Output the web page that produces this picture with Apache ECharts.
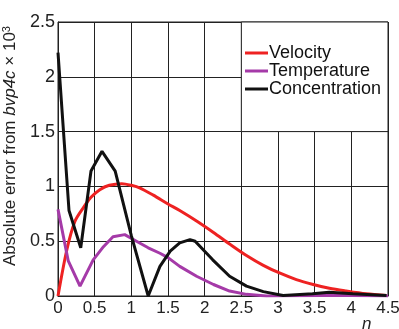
<!DOCTYPE html>
<html>
<head>
<meta charset="utf-8">
<script src="https://cdn.jsdelivr.net/npm/echarts@6/dist/echarts.min.js"></script>
<style>
html,body{margin:0;padding:0;background:#fff;}
#c{width:399px;height:329px;}
</style>
</head>
<body>
<div id="c"></div>
<script>
var seriesNames = ['Velocity', 'Temperature', 'Concentration'];
var xTicks = [0, 0.5, 1, 1.5, 2, 2.5, 3, 3.5, 4, 4.5];
var yTicks = [0, 0.5, 1, 1.5, 2, 2.5];

var velX = [0, 0.12, 0.23, 0.34, 0.45, 0.57, 0.7, 0.87, 1.0, 1.12, 1.3, 1.5, 1.66, 1.9, 2.12, 2.35, 2.57, 2.8, 3.02, 3.25, 3.48, 3.7, 3.93, 4.2, 4.48];
var velY = [0, 0.42, 0.68, 0.80, 0.90, 0.97, 1.01, 1.025, 1.01, 0.985, 0.92, 0.84, 0.78, 0.68, 0.58, 0.47, 0.37, 0.28, 0.21, 0.15, 0.105, 0.07, 0.045, 0.02, 0.005];

var tempX = [0, 0.14, 0.3, 0.48, 0.62, 0.75, 0.91, 1.07, 1.23, 1.39, 1.5, 1.66, 1.89, 2.12, 2.34, 2.57, 2.84, 3.2, 3.6, 4.0, 4.5];
var tempY = [0.79, 0.32, 0.09, 0.33, 0.45, 0.54, 0.56, 0.5, 0.44, 0.39, 0.35, 0.27, 0.18, 0.105, 0.045, 0.015, 0.0, 0.002, 0.005, 0.005, 0.0];

var concX = [0, 0.15, 0.31, 0.45, 0.6, 0.78, 1.0, 1.23, 1.39, 1.53, 1.66, 1.8, 1.87, 2.11, 2.34, 2.57, 2.8, 3.07, 3.47, 3.7, 4.02, 4.48];
var concY = [2.22, 0.78, 0.44, 1.14, 1.32, 1.14, 0.55, 0, 0.27, 0.41, 0.485, 0.515, 0.5, 0.33, 0.18, 0.09, 0.04, 0.005, 0.02, 0.035, 0.02, 0.005];

var legendBox = [[2.5, 1.5], [4.5, 2.5]];

function pairs(xs, ys) { return xs.map(function (x, i) { return [x, ys[i]]; }); }

var font = "'Liberation Sans', Arial, sans-serif";
var colors = ['#ee2222', '#a53aa8', '#111111'];

var chart = echarts.init(document.getElementById('c'), null, {renderer: 'canvas'});
chart.setOption({
  animation: false,
  backgroundColor: '#fff',
  color: colors,
  textStyle: {fontFamily: font},
  grid: {left: 58, right: 11, top: 22, bottom: 33, show: true, borderColor: '#222', borderWidth: 1,
    backgroundColor: 'transparent', containLabel: false, outerBoundsMode: 'none'},
  legend: {
    data: seriesNames,
    orient: 'vertical',
    left: 245, top: 44,
    padding: 0,
    itemGap: 0,
    itemWidth: 23, itemHeight: 3,
    icon: 'rect',
    textStyle: {fontFamily: font, fontSize: 18, color: '#111', lineHeight: 17.5, padding: [0, 0, 0, -4]}
  },
  xAxis: {
    type: 'value', min: xTicks[0], max: xTicks[xTicks.length - 1], interval: 0.5,
    axisLine: {show: true, lineStyle: {color: '#222', width: 1}},
    axisTick: {show: false},
    splitLine: {show: true, lineStyle: {color: '#222', width: 1}},
    axisLabel: {fontFamily: font, fontSize: 17, color: '#222', margin: 4,
      formatter: function (v) { return String(v); }}
  },
  yAxis: {
    type: 'value', min: yTicks[0], max: yTicks[yTicks.length - 1], interval: 0.5,
    axisLine: {show: true, lineStyle: {color: '#222', width: 1}},
    axisTick: {show: false},
    splitLine: {show: true, lineStyle: {color: '#222', width: 1}},
    axisLabel: {fontFamily: font, fontSize: 18, color: '#222', margin: 3,
      formatter: function (v) { return String(v); }},
    name: 'Absolute error from {i|bvp4c} × 10{s|3}',
    nameLocation: 'middle',
    nameGap: 26,
    nameTextStyle: {
      fontFamily: font, fontSize: 17, color: '#222',
      padding: [0, 0, 0, 26],
      rich: {
        i: {fontFamily: font, fontSize: 17, fontStyle: 'italic', color: '#222'},
        s: {fontFamily: font, fontSize: 11, color: '#222', padding: [0, 0, 8, 0]}
      }
    }
  },
  graphic: [{
    type: 'text', left: 362, top: 316,
    style: {text: 'η', font: 'italic 17px ' + font, fill: '#222'}
  }],
  series: [
    {name: seriesNames[0], type: 'line', data: pairs(velX, velY), symbol: 'none', smooth: 0.3,
      lineStyle: {width: 3, color: colors[0]}, z: 3},
    {name: seriesNames[1], type: 'line', data: pairs(tempX, tempY), symbol: 'none',
      lineStyle: {width: 3, color: colors[1]}, z: 4},
    {name: seriesNames[2], type: 'line', data: pairs(concX, concY), symbol: 'none',
      lineStyle: {width: 3, color: colors[2]}, z: 5,
      markArea: {silent: true,
        itemStyle: {color: '#fff', borderColor: '#222', borderWidth: 1},
        data: [[{xAxis: legendBox[0][0], yAxis: legendBox[0][1]}, {xAxis: legendBox[1][0], yAxis: legendBox[1][1]}]]}
    }
  ]
});
</script>
</body>
</html>
